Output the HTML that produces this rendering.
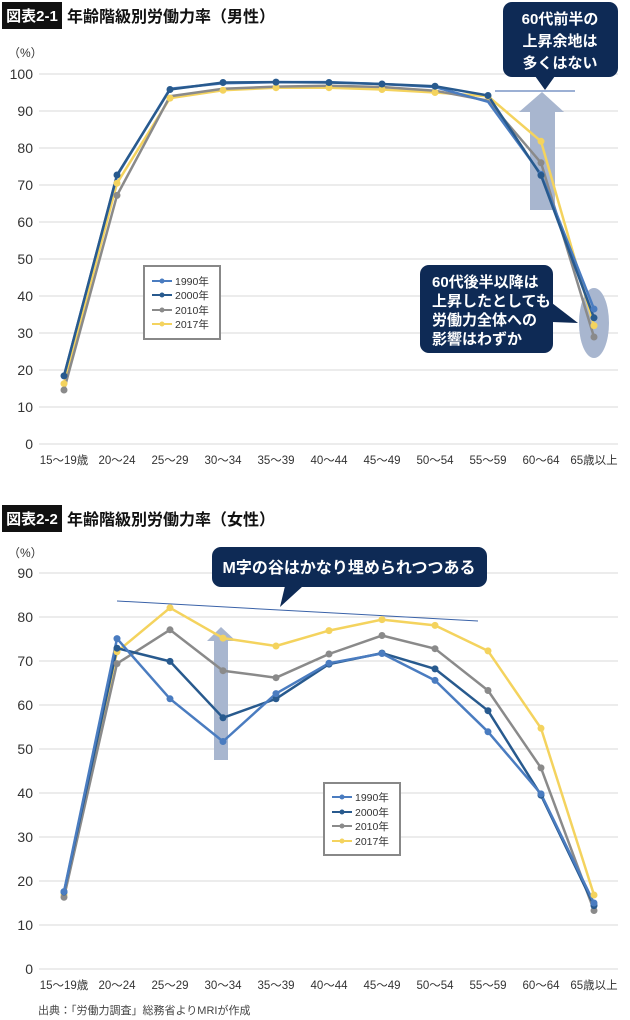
<!DOCTYPE html>
<html><head><meta charset="utf-8"><style>
html,body{margin:0;padding:0;background:#fff;}
svg{display:block;font-family:"Liberation Sans","Noto Sans CJK JP",sans-serif;}
</style></head><body>
<svg width="630" height="1020" viewBox="0 0 630 1020">
<rect width="630" height="1020" fill="#fff"/>
<!-- Chart 1 header -->
<rect x="2" y="2" width="60" height="27" fill="#111"/>
<text x="32" y="21" fill="#fff" font-size="15" font-weight="bold" text-anchor="middle">図表2-1</text>
<text x="67" y="22" fill="#111" font-size="16" font-weight="bold">年齢階級別労働力率（男性）</text>
<text x="8" y="57" font-size="12" fill="#333">（%）</text>
<g stroke="#d8d8d8" stroke-width="1">
<line x1="39" x2="618" y1="74" y2="74"/><line x1="39" x2="618" y1="111" y2="111"/><line x1="39" x2="618" y1="148" y2="148"/><line x1="39" x2="618" y1="185" y2="185"/><line x1="39" x2="618" y1="222" y2="222"/><line x1="39" x2="618" y1="259" y2="259"/><line x1="39" x2="618" y1="296" y2="296"/><line x1="39" x2="618" y1="333" y2="333"/><line x1="39" x2="618" y1="370" y2="370"/><line x1="39" x2="618" y1="407" y2="407"/><line x1="39" x2="618" y1="444" y2="444"/>
</g>
<g font-size="14" fill="#333" text-anchor="end">
<text x="33" y="79">100</text><text x="33" y="116">90</text><text x="33" y="153">80</text><text x="33" y="190">70</text><text x="33" y="227">60</text><text x="33" y="264">50</text><text x="33" y="301">40</text><text x="33" y="338">30</text><text x="33" y="375">20</text><text x="33" y="412">10</text><text x="33" y="449">0</text>
</g>
<g font-size="11.5" fill="#333" text-anchor="middle">
<text x="64" y="464">15～19歳</text><text x="117" y="464">20～24</text><text x="170" y="464">25～29</text><text x="223" y="464">30～34</text><text x="276" y="464">35～39</text><text x="329" y="464">40～44</text><text x="382" y="464">45～49</text><text x="435" y="464">50～54</text><text x="488" y="464">55～59</text><text x="541" y="464">60～64</text><text x="594" y="464">65歳以上</text>
</g>
<!-- arrow 1 -->
<polygon points="530,210 555,210 555,112 564,112 542,92 519,112 530,112" fill="#a8b6cf"/>
<line x1="495" y1="91" x2="575" y2="91" stroke="#3a62a8" stroke-width="1"/>
<ellipse cx="594" cy="323" rx="15" ry="35" fill="#a8b6cf"/>
<!-- series chart1 -->
<g fill="none" stroke-width="2.5" stroke-linejoin="round">
<polyline stroke="#f4d35e" points="64,383.7 117,183.2 170,98.1 223,90.3 276,87.7 329,87.7 382,89.5 435,92.5 488,96.2 541,141.3 594,325.6"/>
<polyline stroke="#8a8a8a" points="64,390 117,195.4 170,96.2 223,88.8 276,86.6 329,85.8 382,87 435,90.7 488,100.6 541,162.8 594,337"/>
<polyline stroke="#4a7cc0" points="64,375.6 117,175.8 170,88.8 223,83.3 276,82.1 329,82.1 382,84 435,87 488,101.8 541,174.3 594,309"/>
<polyline stroke="#285a8e" points="64,375.9 117,175 170,89.5 223,82.5 276,82.1 329,82.5 382,84 435,86.2 488,95.5 541,175.4 594,317.8"/>
</g>
<g fill="#f4d35e"><circle cx="64" cy="383.7" r="3.5"/><circle cx="117" cy="183.2" r="3.5"/><circle cx="170" cy="98.1" r="3.5"/><circle cx="223" cy="90.3" r="3.5"/><circle cx="276" cy="87.7" r="3.5"/><circle cx="329" cy="87.7" r="3.5"/><circle cx="382" cy="89.5" r="3.5"/><circle cx="435" cy="92.5" r="3.5"/><circle cx="488" cy="96.2" r="3.5"/><circle cx="541" cy="141.3" r="3.5"/><circle cx="594" cy="325.6" r="3.5"/></g>
<g fill="#8a8a8a"><circle cx="64" cy="390" r="3.5"/><circle cx="117" cy="195.4" r="3.5"/><circle cx="541" cy="162.8" r="3.5"/><circle cx="594" cy="337" r="3.5"/></g>
<g fill="#4a7cc0"><circle cx="594" cy="309" r="3.5"/><circle cx="541" cy="174.3" r="3.5"/></g>
<g fill="#285a8e"><circle cx="64" cy="375.9" r="3.5"/><circle cx="117" cy="175" r="3.5"/><circle cx="170" cy="89.5" r="3.5"/><circle cx="223" cy="82.5" r="3.5"/><circle cx="276" cy="82.1" r="3.5"/><circle cx="329" cy="82.5" r="3.5"/><circle cx="382" cy="84" r="3.5"/><circle cx="435" cy="86.2" r="3.5"/><circle cx="488" cy="95.5" r="3.5"/><circle cx="541" cy="175.4" r="3.5"/><circle cx="594" cy="317.8" r="3.5"/></g>
<!-- legend 1 -->
<rect x="144" y="266" width="76" height="73" fill="#fff" stroke="#888" stroke-width="2"/>
<g stroke-width="2"><line x1="152" x2="172" y1="281" y2="281" stroke="#4a7cc0"/><line x1="152" x2="172" y1="295" y2="295" stroke="#285a8e"/><line x1="152" x2="172" y1="310" y2="310" stroke="#8a8a8a"/><line x1="152" x2="172" y1="324" y2="324" stroke="#f4d35e"/></g>
<circle cx="162" cy="281" r="2.5" fill="#4a7cc0"/><circle cx="162" cy="295" r="2.5" fill="#285a8e"/><circle cx="162" cy="310" r="2.5" fill="#8a8a8a"/><circle cx="162" cy="324" r="2.5" fill="#f4d35e"/>
<g font-size="10.5" fill="#333"><text x="175" y="285">1990年</text><text x="175" y="299">2000年</text><text x="175" y="314">2010年</text><text x="175" y="328">2017年</text></g>
<!-- callouts chart1 -->
<rect x="503" y="2" width="115" height="75" rx="9" fill="#0e2a55"/>
<polygon points="535,76 555,76 545,90" fill="#0e2a55"/>
<g font-size="15" font-weight="bold" fill="#fff" text-anchor="middle"><text x="560" y="24">60代前半の</text><text x="560" y="46">上昇余地は</text><text x="560" y="68">多くはない</text></g>
<rect x="420" y="265" width="133" height="88" rx="9" fill="#0e2a55"/>
<polygon points="552,303 552,322 578,323" fill="#0e2a55"/>
<g font-size="15" font-weight="bold" fill="#fff"><text x="432" y="287">60代後半以降は</text><text x="432" y="306">上昇したとしても</text><text x="432" y="325">労働力全体への</text><text x="432" y="344">影響はわずか</text></g>

<!-- Chart 2 header -->
<rect x="2" y="505" width="60" height="27" fill="#111"/>
<text x="32" y="524" fill="#fff" font-size="15" font-weight="bold" text-anchor="middle">図表2-2</text>
<text x="67" y="525" fill="#111" font-size="16" font-weight="bold">年齢階級別労働力率（女性）</text>
<text x="8" y="557" font-size="12" fill="#333">（%）</text>
<g stroke="#d8d8d8" stroke-width="1">
<line x1="39" x2="618" y1="573" y2="573"/><line x1="39" x2="618" y1="617" y2="617"/><line x1="39" x2="618" y1="661" y2="661"/><line x1="39" x2="618" y1="705" y2="705"/><line x1="39" x2="618" y1="749" y2="749"/><line x1="39" x2="618" y1="793" y2="793"/><line x1="39" x2="618" y1="837" y2="837"/><line x1="39" x2="618" y1="881" y2="881"/><line x1="39" x2="618" y1="925" y2="925"/><line x1="39" x2="618" y1="969" y2="969"/>
</g>
<g font-size="14" fill="#333" text-anchor="end">
<text x="33" y="578">90</text><text x="33" y="622">80</text><text x="33" y="666">70</text><text x="33" y="710">60</text><text x="33" y="754">50</text><text x="33" y="798">40</text><text x="33" y="842">30</text><text x="33" y="886">20</text><text x="33" y="930">10</text><text x="33" y="974">0</text>
</g>
<g font-size="11.5" fill="#333" text-anchor="middle">
<text x="64" y="989">15～19歳</text><text x="117" y="989">20～24</text><text x="170" y="989">25～29</text><text x="223" y="989">30～34</text><text x="276" y="989">35～39</text><text x="329" y="989">40～44</text><text x="382" y="989">45～49</text><text x="435" y="989">50～54</text><text x="488" y="989">55～59</text><text x="541" y="989">60～64</text><text x="594" y="989">65歳以上</text>
</g>
<text x="38" y="1014" font-size="11" fill="#444">出典：「労働力調査」総務省よりMRIが作成</text>
<polygon points="214,760 228,760 228,641 236,641 221,627 207,641 214,641" fill="#a8b6cf"/>
<line x1="117" y1="601" x2="478" y2="621" stroke="#3a62a8" stroke-width="1"/>
<g fill="none" stroke-width="2.5" stroke-linejoin="round">
<polyline stroke="#f4d35e" points="64,895 117,651.8 170,607.8 223,638.1 276,646 329,630.6 382,619.6 435,625.4 488,650.9 541,728.3 594,895"/>
<polyline stroke="#8a8a8a" points="64,897.3 117,663.6 170,629.8 223,670.7 276,677.7 329,654 382,635.5 435,648.7 488,690.5 541,767.9 594,910.5"/>
<polyline stroke="#285a8e" points="64,892 117,648.2 170,661.4 223,717.8 276,698.8 329,664.1 382,653.1 435,668.9 488,710.7 541,795.2 594,905.6"/>
<polyline stroke="#4a7cc0" points="64,891.6 117,638.6 170,698.8 223,741.5 276,693.6 329,663.2 382,653.5 435,680.4 488,731.8 541,793.9 594,903"/>
</g>
<g fill="#f4d35e"><circle cx="64" cy="895" r="3.5"/><circle cx="117" cy="651.8" r="3.5"/><circle cx="170" cy="607.8" r="3.5"/><circle cx="223" cy="638.1" r="3.5"/><circle cx="276" cy="646" r="3.5"/><circle cx="329" cy="630.6" r="3.5"/><circle cx="382" cy="619.6" r="3.5"/><circle cx="435" cy="625.4" r="3.5"/><circle cx="488" cy="650.9" r="3.5"/><circle cx="541" cy="728.3" r="3.5"/><circle cx="594" cy="895" r="3.5"/></g>
<g fill="#8a8a8a"><circle cx="64" cy="897.3" r="3.5"/><circle cx="117" cy="663.6" r="3.5"/><circle cx="170" cy="629.8" r="3.5"/><circle cx="223" cy="670.7" r="3.5"/><circle cx="276" cy="677.7" r="3.5"/><circle cx="329" cy="654" r="3.5"/><circle cx="382" cy="635.5" r="3.5"/><circle cx="435" cy="648.7" r="3.5"/><circle cx="488" cy="690.5" r="3.5"/><circle cx="541" cy="767.9" r="3.5"/><circle cx="594" cy="910.5" r="3.5"/></g>
<g fill="#285a8e"><circle cx="64" cy="892" r="3.5"/><circle cx="117" cy="648.2" r="3.5"/><circle cx="170" cy="661.4" r="3.5"/><circle cx="223" cy="717.8" r="3.5"/><circle cx="276" cy="698.8" r="3.5"/><circle cx="329" cy="664.1" r="3.5"/><circle cx="382" cy="653.1" r="3.5"/><circle cx="435" cy="668.9" r="3.5"/><circle cx="488" cy="710.7" r="3.5"/><circle cx="541" cy="795.2" r="3.5"/><circle cx="594" cy="905.6" r="3.5"/></g>
<g fill="#4a7cc0"><circle cx="64" cy="891.6" r="3.5"/><circle cx="117" cy="638.6" r="3.5"/><circle cx="170" cy="698.8" r="3.5"/><circle cx="223" cy="741.5" r="3.5"/><circle cx="276" cy="693.6" r="3.5"/><circle cx="329" cy="663.2" r="3.5"/><circle cx="382" cy="653.5" r="3.5"/><circle cx="435" cy="680.4" r="3.5"/><circle cx="488" cy="731.8" r="3.5"/><circle cx="541" cy="793.9" r="3.5"/><circle cx="594" cy="903" r="3.5"/></g>
<!-- legend 2 -->
<rect x="324" y="783" width="76" height="72" fill="#fff" stroke="#888" stroke-width="2"/>
<g stroke-width="2"><line x1="332" x2="352" y1="797" y2="797" stroke="#4a7cc0"/><line x1="332" x2="352" y1="812" y2="812" stroke="#285a8e"/><line x1="332" x2="352" y1="826" y2="826" stroke="#8a8a8a"/><line x1="332" x2="352" y1="841" y2="841" stroke="#f4d35e"/></g>
<circle cx="342" cy="797" r="2.5" fill="#4a7cc0"/><circle cx="342" cy="812" r="2.5" fill="#285a8e"/><circle cx="342" cy="826" r="2.5" fill="#8a8a8a"/><circle cx="342" cy="841" r="2.5" fill="#f4d35e"/>
<g font-size="10.5" fill="#333"><text x="355" y="801">1990年</text><text x="355" y="816">2000年</text><text x="355" y="830">2010年</text><text x="355" y="845">2017年</text></g>
<!-- callout 2 -->
<rect x="212" y="547" width="275" height="40" rx="9" fill="#0e2a55"/>
<polygon points="285,586 303,586 280,607" fill="#0e2a55"/>
<text x="349" y="573" font-size="16" font-weight="bold" fill="#fff" text-anchor="middle">M字の谷はかなり埋められつつある</text>
</svg>
</body></html>
